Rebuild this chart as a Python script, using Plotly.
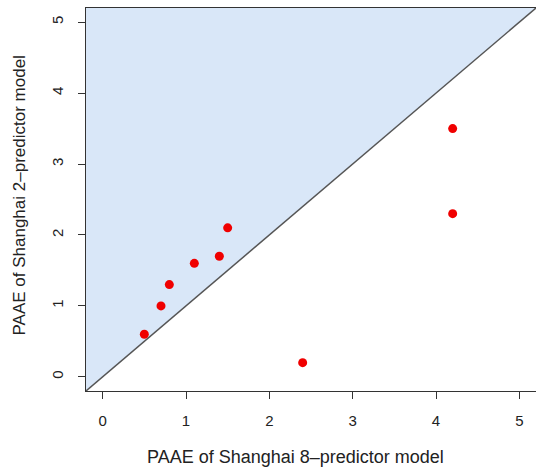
import plotly.graph_objects as go

# data
x_vals = [0.5, 0.7, 0.8, 1.1, 1.4, 1.5, 2.4, 4.2, 4.2]
y_vals = [0.6, 1.0, 1.3, 1.6, 1.7, 2.1, 0.2, 3.5, 2.3]
tick_vals = [0, 1, 2, 3, 4, 5]
axis_lo, axis_hi = -0.2, 5.2
x_title = "PAAE of Shanghai 8\u2013predictor model"
y_title = "PAAE of Shanghai 2\u2013predictor model"

font_family = "Liberation Sans, Arial, Helvetica, sans-serif"

fig = go.Figure()

# shaded upper-left triangle (y > x)
fig.add_trace(go.Scatter(
    x=[axis_lo, axis_hi, axis_lo, axis_lo],
    y=[axis_lo, axis_hi, axis_hi, axis_lo],
    mode="lines", fill="toself", fillcolor="rgb(217,231,248)",
    line=dict(width=0), hoverinfo="skip", showlegend=False))

# identity line
fig.add_trace(go.Scatter(
    x=[axis_lo, axis_hi], y=[axis_lo, axis_hi], mode="lines",
    line=dict(color="#555555", width=1.5), hoverinfo="skip", showlegend=False))

# points
fig.add_trace(go.Scatter(
    x=x_vals, y=y_vals, mode="markers",
    marker=dict(color="#f00000", size=9, line=dict(width=0)),
    showlegend=False))

axis_common = dict(
    range=[axis_lo, axis_hi], tickvals=tick_vals, ticks="outside", ticklen=7,
    tickcolor="#333333", tickwidth=1, showline=True, mirror=True,
    linecolor="#333333", linewidth=1, showgrid=False, zeroline=False,
    tickfont=dict(size=15, color="#222222", family=font_family),
)

fig.update_layout(
    width=536, height=468,
    margin=dict(l=86, r=0, t=8, b=77),
    plot_bgcolor="white", paper_bgcolor="white",
    font=dict(family=font_family, color="#222222"),
    xaxis=dict(**axis_common, ticklabelstandoff=9),
    yaxis=dict(**axis_common, tickangle=-90, ticklabelstandoff=9),
    annotations=[
        dict(text=x_title, xref="paper", yref="paper", x=0.4656, y=-0.1723,
             xanchor="center", yanchor="middle", showarrow=False,
             font=dict(size=18, color="#222222")),
        dict(text=y_title, xref="paper", yref="paper", x=-0.1467, y=0.5104,
             xanchor="center", yanchor="middle", showarrow=False, textangle=-90,
             font=dict(size=17, color="#222222")),
    ],
)

fig.write_html("out.html")
